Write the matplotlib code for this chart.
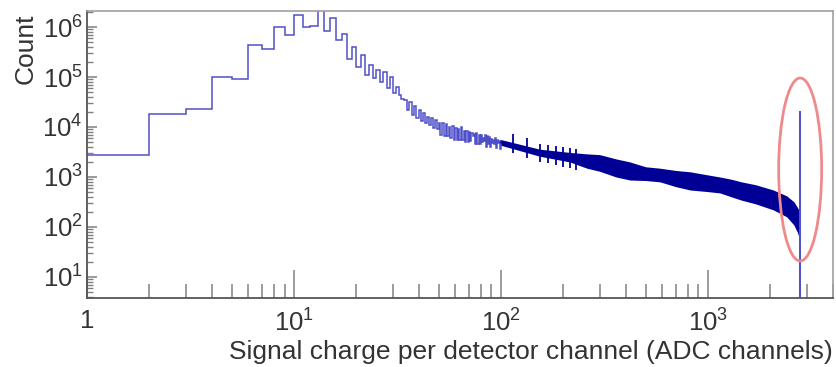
import matplotlib
matplotlib.use('Agg')
import numpy as np
import matplotlib.pyplot as plt
from matplotlib.patches import Ellipse
from matplotlib.ticker import FixedLocator, FixedFormatter, NullFormatter

plt.rcParams['font.family'] = ['Liberation Sans', 'DejaVu Sans']
plt.rcParams['mathtext.fontset'] = 'custom'
plt.rcParams['mathtext.rm'] = 'Liberation Sans'
plt.rcParams['mathtext.it'] = 'Liberation Sans:italic'

# ---- data: per-channel counts for the low channels (bins 1..100) ----
low_counts = [2750, 18000, 23000, 1.0e5, 9.2e4, 4.4e5, 3.6e5, 1.0e6, 7.0e5, 1.7e6,
              9.9e5, 1.03e6, 2.2e6, 8.2e5, 1.5e6, 5.4e5, 7.2e5, 2.3e5, 3.9e5, 1.6e5,
              2.7e5, 1.1e5, 1.75e5, 9.4e4, 1.4e5, 8.1e4, 1.28e5, 5.9e4, 1.0e5, 4.7e4,
              6.4e4, 4.4e4, 3.7e4, 3.5e4, 2.2e4, 3.2e4, 1.75e4, 2.6e4, 1.5e4, 2.2e4,
              1.3e4, 1.9e4, 1.2e4, 1.6e4, 1.1e4, 1.5e4, 9.5e3, 1.4e4, 9.0e3, 1.2e4,
              7.0e3, 1.2e4, 6.5e3, 1.15e4, 6.5e3, 1.0e4, 6.0e3, 1.05e4, 5.5e3, 9.5e3,
              5.5e3, 9.0e3, 5.5e3, 1.0e4, 5.5e3, 8.5e3, 5.0e3, 8.5e3, 5.0e3, 8.0e3,
              5.2e3, 7.5e3, 6.5e3, 7.2e3, 4.6e3, 7.5e3, 4.5e3, 7.0e3, 4.5e3, 6.8e3,
              5.0e3, 6.0e3, 5.3e3, 6.8e3, 4.0e3, 6.5e3, 4.5e3, 6.2e3, 4.0e3, 5.8e3,
              4.8e3, 5.4e3, 4.6e3, 5.9e3, 3.8e3, 5.6e3, 4.7e3, 5.3e3, 3.6e3, 5.2e3]
low_first_channel = 1

# ---- dense region: envelope of the channel-to-channel fluctuations ----
band_x = [100, 154, 215, 260, 300, 360, 420, 500, 586, 700, 820, 1000, 1143, 1300, 1450, 1700, 2070, 2400, 2600, 2700, 2780]
band_hi = [5.6e3, 3.6e3, 3.1e3, 2.9e3, 2.8e3, 2.3e3, 2.0e3, 1.6e3, 1.5e3, 1.35e3, 1.27e3, 1.1e3, 1.0e3, 900, 800, 700, 550, 420, 320, 250, 200]
band_lo = [4.3e3, 2.6e3, 2.0e3, 1.5e3, 1.3e3, 1.0e3, 870, 850, 800, 640, 550, 510, 480, 400, 345, 290, 220, 160, 110, 80, 55]

# ---- isolated outlier channels between 100 and 250 ----
spike_x = [114, 133, 154, 169, 184, 199, 216, 230]
spike_hi = [7.2e3, 6.0e3, 4.6e3, 4.4e3, 4.2e3, 3.9e3, 3.8e3, 3.6e3]
spike_lo = [3.0e3, 2.4e3, 2.0e3, 1.9e3, 1.7e3, 1.6e3, 1.5e3, 1.4e3]

# ---- overflow spike at the end of the ADC range ----
end_edges = [2780, 2786, 2790, 2794, 3200]
end_counts = [55, 0, 21000, 0]

xticks_major = [1, 10, 100, 1000]
xtick_labels = ['1', r'$10^{1}$', r'$10^{2}$', r'$10^{3}$']
yticks_major = [1e1, 1e2, 1e3, 1e4, 1e5, 1e6]
ytick_labels = [r'$10^{1}$', r'$10^{2}$', r'$10^{3}$', r'$10^{4}$', r'$10^{5}$', r'$10^{6}$']

line_col = '#4f4fc9'
dense_col = '#000096'

fig = plt.figure(figsize=(8.36, 3.67), dpi=100)
ax = fig.add_axes([87/836, 1-298/367, (833-87)/836, (298-11)/367])
ax.set_xscale('log')
ax.set_yscale('log', nonpositive='clip')
ax.set_xlim(1, 4020)
ax.set_ylim(3.8, 2.09e6)

edges = np.arange(low_first_channel, low_first_channel + len(low_counts) + 1)
ax.stairs(low_counts, edges, color=line_col, lw=1.1, baseline=None)
ax.fill_between(band_x, band_lo, band_hi, color=dense_col, lw=0, zorder=2)
mid = np.sqrt(np.array(band_lo) * np.array(band_hi))
ax.plot(band_x, mid, color=dense_col, lw=1.2, zorder=2)
ax.vlines(spike_x, spike_lo, spike_hi, color=dense_col, lw=1.3, zorder=2)
ax.stairs(end_counts, end_edges, color=line_col, lw=1.1, baseline=None, zorder=3)

# ticks
ax.xaxis.set_major_locator(FixedLocator(xticks_major))
ax.xaxis.set_major_formatter(FixedFormatter(xtick_labels))
xminor = [m * 10**d for d in range(0, 4) for m in range(2, 10) if m * 10**d < 4020]
ax.xaxis.set_minor_locator(FixedLocator(xminor))
ax.xaxis.set_minor_formatter(NullFormatter())
ax.yaxis.set_major_locator(FixedLocator(yticks_major))
ax.yaxis.set_major_formatter(FixedFormatter(ytick_labels))
yminor = [m * 10**d for d in range(0, 7) for m in range(2, 10)]
ax.yaxis.set_minor_locator(FixedLocator(yminor))
ax.yaxis.set_minor_formatter(NullFormatter())

ax.tick_params(axis='x', which='major', direction='in', length=20, width=1.1, color='#808080',
               labelsize=18.5, pad=8, labelcolor='#333333', top=False)
ax.tick_params(axis='x', which='minor', direction='in', length=10, width=1.1, color='#808080', top=False)
ax.tick_params(axis='y', which='major', direction='in', length=7.5, width=1.1, color='#808080',
               labelsize=18.5, pad=3, labelcolor='#333333', right=False)
ax.tick_params(axis='y', which='minor', direction='in', length=4, width=1.0, color='#808080', right=False)

for s in ['top', 'right']:
    ax.spines[s].set_color('#a0a0a0')
    ax.spines[s].set_linewidth(1.2)
for s in ['left', 'bottom']:
    ax.spines[s].set_color('#555555')
    ax.spines[s].set_linewidth(1.3)

fig.text(26/836, 1-14/367, 'Count', rotation=90, ha='center', va='top', fontsize=19, color='#333333')
fig.text(833/836, 1-352/367, 'Signal charge per detector channel (ADC channels)', ha='right', va='center',
         fontsize=19, color='#333333')

# highlight ellipse around the overflow spike
fig.canvas.draw()
spike_center = end_edges[2]
cx_pix, cy_pix = ax.transData.transform((spike_center, 1413))
cx, cy = ax.transAxes.inverted().transform((cx_pix, cy_pix))
ell = Ellipse((cx, cy), width=43/746, height=183/287, transform=ax.transAxes,
              fill=False, edgecolor='#f08a8a', lw=2.0, zorder=5, clip_on=False)
ax.add_patch(ell)

fig.savefig('out.png', dpi=100)
